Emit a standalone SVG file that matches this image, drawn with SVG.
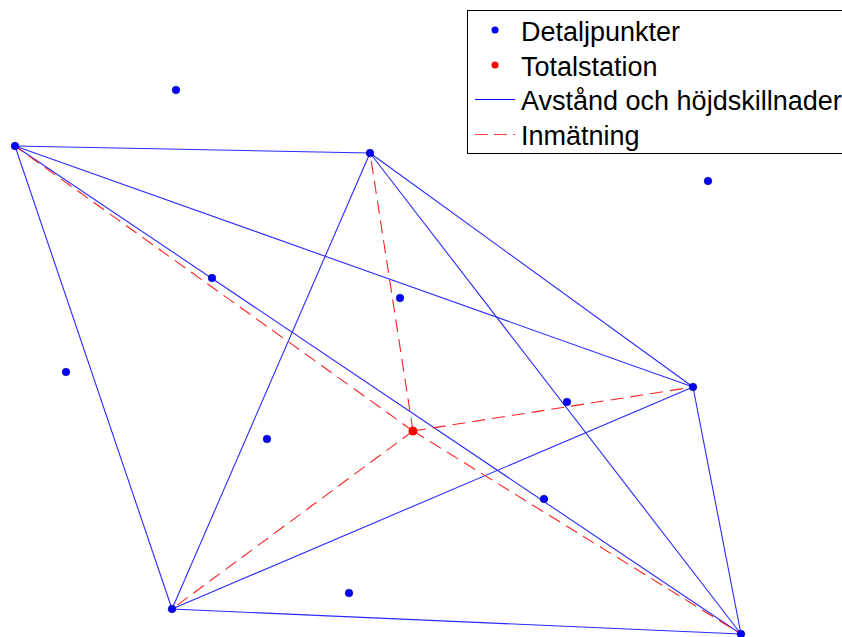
<svg xmlns="http://www.w3.org/2000/svg" width="842" height="637" viewBox="0 0 842 637">
<style>
.b{stroke:#2a2aff;stroke-width:1.1;fill:none}
.r{stroke:#ff2020;stroke-width:1.1;fill:none;stroke-dasharray:13,7}
.p{fill:#0000ff;stroke:#00008a;stroke-width:0.6}
.t{fill:#ff0000}
.lt{font-family:"Liberation Sans",Arial,sans-serif;font-size:27px;fill:#000}
</style>
<rect width="842" height="637" fill="#fff"/>
<g id="connectors">
<line class="b" x1="15" y1="146" x2="370" y2="153"/>
<line class="b" x1="15" y1="146" x2="693" y2="387"/>
<line class="b" x1="15" y1="146" x2="741" y2="634"/>
<line class="b" x1="15" y1="146" x2="172" y2="609"/>
<line class="b" x1="370" y1="153" x2="172" y2="609"/>
<line class="b" x1="370" y1="153" x2="693" y2="387"/>
<line class="b" x1="370" y1="153" x2="741" y2="634"/>
<line class="b" x1="693" y1="387" x2="172" y2="609"/>
<line class="b" x1="693" y1="387" x2="741" y2="634"/>
<line class="b" x1="172" y1="609" x2="741" y2="634"/>
<line class="r" x1="413" y1="431" x2="15" y2="146"/>
<line class="r" x1="413" y1="431" x2="370" y2="153"/>
<line class="r" x1="413" y1="431" x2="693" y2="387"/>
<line class="r" x1="413" y1="431" x2="741" y2="634"/>
<line class="r" x1="413" y1="431" x2="172" y2="609"/>
</g>
<g id="pA"><circle class="p" cx="15" cy="146" r="3.8"/></g>
<g id="pB"><circle class="p" cx="370" cy="153" r="3.8"/></g>
<g id="pC"><circle class="p" cx="693" cy="387" r="3.8"/></g>
<g id="pD"><circle class="p" cx="741" cy="634" r="3.8"/></g>
<g id="pE"><circle class="p" cx="172" cy="609" r="3.8"/></g>
<g id="d1"><circle class="p" cx="176" cy="90" r="3.8"/></g>
<g id="d2"><circle class="p" cx="708" cy="181" r="3.8"/></g>
<g id="d3"><circle class="p" cx="212" cy="278" r="3.8"/></g>
<g id="d4"><circle class="p" cx="400" cy="298" r="3.8"/></g>
<g id="d5"><circle class="p" cx="66" cy="372" r="3.8"/></g>
<g id="d6"><circle class="p" cx="567" cy="402" r="3.8"/></g>
<g id="d7"><circle class="p" cx="267" cy="439" r="3.8"/></g>
<g id="d8"><circle class="p" cx="544" cy="499" r="3.8"/></g>
<g id="d9"><circle class="p" cx="349" cy="593" r="3.8"/></g>
<g id="station"><circle class="t" cx="413" cy="431" r="4.5"/></g>
<g id="legend">
<rect x="467.5" y="10.5" width="380" height="143" fill="#fff" stroke="#000" stroke-width="1"/>
<circle cx="495" cy="30" r="3.5" fill="#0000ff"/>
<text class="lt" x="521" y="41">Detaljpunkter</text>
<circle cx="495" cy="65" r="3.5" fill="#ff0000"/>
<text class="lt" x="521" y="75.5">Totalstation</text>
<line x1="475" y1="99.5" x2="515" y2="99.5" stroke="#0000ff" stroke-width="1"/>
<text class="lt" x="521" y="110">Avstånd och höjdskillnader</text>
<line x1="475" y1="134.5" x2="515" y2="134.5" stroke="#ff4040" stroke-width="1" stroke-dasharray="13,6"/>
<text class="lt" x="521" y="144.5">Inmätning</text>
</g>
</svg>
